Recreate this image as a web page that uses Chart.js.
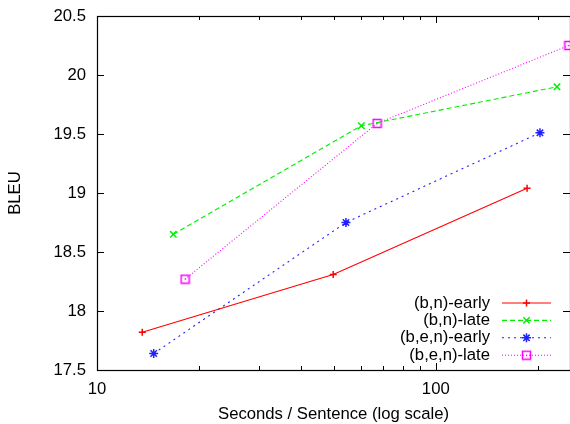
<!DOCTYPE html>
<html>
<head>
<meta charset="utf-8">
<script src="https://cdn.jsdelivr.net/npm/chart.js@4"></script>
<style>
  html, body { margin: 0; padding: 0; background: #fff; }
  #wrap { width: 570px; height: 424px; }
</style>
</head>
<body>
<div id="wrap"><canvas id="c"></canvas></div>
<script>
// values (x = seconds/sentence, y = BLEU)
const seriesNames = ["(b,n)-early", "(b,n)-late", "(b,e,n)-early", "(b,e,n)-late"];
const bnEarlyX = [13.6, 49.8, 186];
const bnEarlyY = [17.82, 18.31, 19.04];
const bnLateX = [16.8, 60.3, 228];
const bnLateY = [18.65, 19.57, 19.9];
const benEarlyX = [14.7, 54.3, 203];
const benEarlyY = [17.64, 18.75, 19.51];
const benLateX = [18.2, 67.1, 247];
const benLateY = [18.27, 19.59, 20.25];

const xTicks = [10, 20, 30, 40, 50, 60, 70, 80, 90, 100, 200];
const xLabelled = [10, 100];
const yTicks = [17.5, 18, 18.5, 19, 19.5, 20, 20.5];

const FONT = "'Liberation Sans', Arial, sans-serif";
const FSIZE = 16.7;

function pts(xs, ys) {
  return xs.map((x, i) => ({ x, y: ys[i] }));
}

// gnuplot style square with a dot in the middle
function squareMarker() {
  const cv = document.createElement("canvas");
  cv.width = 11; cv.height = 11;
  const g = cv.getContext("2d");
  g.strokeStyle = "#ff00ff";
  g.lineWidth = 1.5;
  g.strokeRect(1.5, 1.5, 8, 8);
  g.fillStyle = "#ff00ff";
  g.fillRect(5, 5, 1.2, 1.2);
  return cv;
}

const styles = [
  { color: "#ff0000", dash: [], point: "cross", r: 3.5 },
  { color: "#00f000", dash: [5, 3], point: "crossRot", r: 4.5 },
  { color: "#2020ff", dash: [2, 4], point: "star", r: 4.5 },
  { color: "#ff00ff", dash: [1, 2], point: squareMarker(), r: 5 }
];

const datasets = [
  pts(bnEarlyX, bnEarlyY),
  pts(bnLateX, bnLateY),
  pts(benEarlyX, benEarlyY),
  pts(benLateX, benLateY)
].map((data, i) => ({
  label: seriesNames[i],
  data,
  borderColor: styles[i].color,
  backgroundColor: styles[i].color,
  borderWidth: 1.1,
  borderDash: styles[i].dash,
  pointStyle: styles[i].point,
  pointRadius: styles[i].r,
  pointBorderWidth: 1.5,
  pointBorderColor: styles[i].color,
  tension: 0,
  clip: false
}));

// frame, inward ticks on all sides, and gnuplot-like key
const framePlugin = {
  id: "frame",
  afterDatasetsDraw(chart) {
    const { ctx, chartArea: a, scales } = chart;
    ctx.save();
    ctx.strokeStyle = "#000";
    ctx.lineWidth = 1;
    ctx.setLineDash([]);
    ctx.beginPath();
    for (const v of xTicks) {
      const px = Math.round(scales.x.getPixelForValue(v)) + 0.5;
      const len = xLabelled.includes(v) ? 7 : 4;
      ctx.moveTo(px, a.bottom); ctx.lineTo(px, a.bottom - len);
      ctx.moveTo(px, a.top); ctx.lineTo(px, a.top + len);
    }
    for (const v of yTicks) {
      const py = Math.round(scales.y.getPixelForValue(v)) + 0.5;
      ctx.moveTo(a.left, py); ctx.lineTo(a.left + 7, py);
      ctx.moveTo(a.right, py); ctx.lineTo(a.right - 7, py);
    }
    ctx.stroke();
    ctx.lineWidth = 1.2;
    ctx.strokeRect(Math.round(a.left) + 0.5, Math.round(a.top) + 0.5, a.right - a.left, a.bottom - a.top);

    // key
    ctx.font = FSIZE + "px " + FONT;
    ctx.textAlign = "right";
    ctx.textBaseline = "middle";
    chart.data.datasets.forEach((ds, i) => {
      const y = 303 + i * 17.4;
      ctx.fillStyle = "#000";
      ctx.fillText(ds.label, 490, y);
      ctx.strokeStyle = ds.borderColor;
      ctx.lineWidth = 1.1;
      ctx.setLineDash(ds.borderDash);
      ctx.beginPath();
      ctx.moveTo(502, y); ctx.lineTo(551, y);
      ctx.stroke();
      ctx.setLineDash([]);
      ctx.fillStyle = ds.borderColor;
      ctx.lineWidth = 1.5;
      Chart.helpers.drawPoint(ctx, {
        pointStyle: ds.pointStyle, radius: ds.pointRadius, rotation: 0, borderWidth: 1.5
      }, 526.5, y);
    });
    ctx.restore();
  }
};

new Chart(document.getElementById("c"), {
  type: "line",
  data: { datasets },
  options: {
    responsive: true,
    maintainAspectRatio: false,
    animation: false,
    layout: { autoPadding: false, padding: { top: 16, right: 0, bottom: 0, left: 0 } },
    plugins: { legend: { display: false }, tooltip: { enabled: false } },
    scales: {
      x: {
        type: "logarithmic",
        min: 10,
        max: 249,
        afterBuildTicks: (s) => { s.ticks = xTicks.map((v) => ({ value: v })); },
        afterFit: (s) => { s.height = 54; s.paddingLeft = 0; s.paddingRight = 0; },
        grid: { display: false, drawTicks: false },
        border: { display: false },
        ticks: {
          autoSkip: false,
          maxRotation: 0,
          padding: 9,
          color: "#000",
          font: { family: FONT, size: FSIZE },
          callback: (v) => (xLabelled.includes(v) ? String(v) : "")
        },
        title: {
          display: true,
          text: "Seconds / Sentence (log scale)",
          color: "#000",
          font: { family: FONT, size: FSIZE },
          padding: { top: 0, bottom: 0 }
        }
      },
      y: {
        min: 17.5,
        max: 20.5,
        afterBuildTicks: (s) => { s.ticks = yTicks.map((v) => ({ value: v })); },
        afterFit: (s) => { s.width = 97; s.paddingTop = 0; s.paddingBottom = 0; },
        grid: { display: false, drawTicks: false },
        border: { display: false },
        ticks: {
          padding: 11,
          color: "#000",
          font: { family: FONT, size: FSIZE },
          callback: (v) => String(v)
        },
        title: {
          display: true,
          text: "BLEU",
          color: "#000",
          font: { family: FONT, size: FSIZE },
          padding: { top: 5, bottom: 0 }
        }
      }
    }
  },
  plugins: [framePlugin]
});
</script>
</body>
</html>
